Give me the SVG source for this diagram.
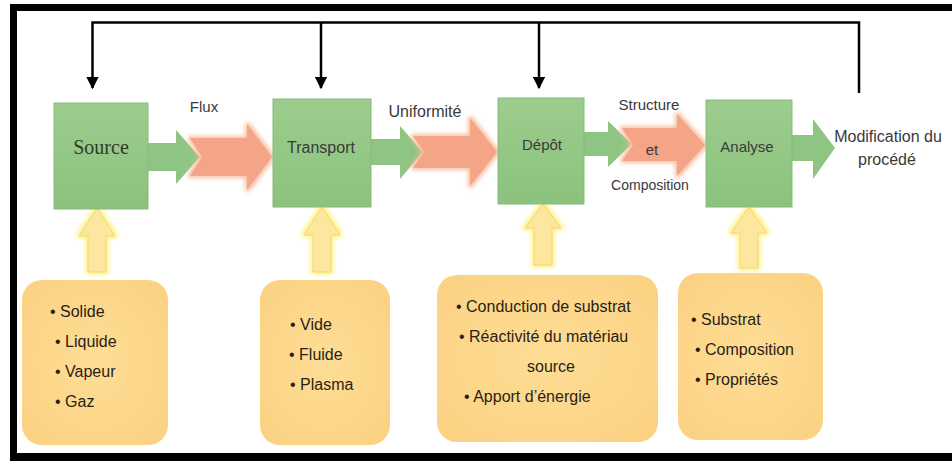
<svg xmlns="http://www.w3.org/2000/svg" width="952" height="461" viewBox="0 0 952 461">
<style>
.lbl{font-family:"Liberation Sans",Arial,sans-serif;fill:#3a3a3a;}
.box{font-family:"Liberation Sans",Arial,sans-serif;font-size:16px;fill:#2a1e16;}
.gbox{fill:url(#gg);stroke:#86bb78;stroke-width:1;}
.garr{fill:#8fc582;}
.oarr{fill:#f4a487;filter:url(#glowO);}
.yarr{fill:#fde7a0;stroke:#f3d76a;stroke-width:1;filter:url(#glowY);}
.ybox{fill:url(#yg);}
.fb{fill:none;stroke:#000;stroke-width:2.5;}
</style>
<defs>
<linearGradient id="gg" x1="0" y1="0" x2="0" y2="1">
<stop offset="0" stop-color="#9ccd8e"/>
<stop offset="1" stop-color="#8cc27d"/>
</linearGradient>
<radialGradient id="yg" cx="0.5" cy="0.5" r="0.7">
<stop offset="0" stop-color="#fedd95"/>
<stop offset="1" stop-color="#fbd182"/>
</radialGradient>
<filter id="glowO" x="-20%" y="-30%" width="140%" height="160%">
<feMorphology in="SourceAlpha" operator="dilate" radius="2" result="d"/>
<feGaussianBlur in="d" stdDeviation="2" result="b"/>
<feFlood flood-color="#f8b996" flood-opacity="0.9"/>
<feComposite in2="b" operator="in" result="g"/>
<feMerge><feMergeNode in="g"/><feMergeNode in="SourceGraphic"/></feMerge>
</filter>
<filter id="glowY" x="-50%" y="-20%" width="200%" height="140%">
<feMorphology in="SourceAlpha" operator="dilate" radius="2" result="d"/>
<feGaussianBlur in="d" stdDeviation="2" result="b"/>
<feFlood flood-color="#fff27a" flood-opacity="0.9"/>
<feComposite in2="b" operator="in" result="g"/>
<feMerge><feMergeNode in="g"/><feMergeNode in="SourceGraphic"/></feMerge>
</filter>
<marker id="ah" viewBox="0 0 10 10" refX="9" refY="5" markerWidth="5" markerHeight="5" markerUnits="strokeWidth" orient="auto">
<path d="M0,0 L10,5 L0,10 Z" fill="#000"/>
</marker>
</defs>
<rect width="952" height="461" fill="#fff"/>
<g id="frame">
<rect x="10" y="4" width="942" height="7" fill="#000"/>
<rect x="10" y="4" width="7" height="457" fill="#000"/>
<rect x="10" y="453" width="942" height="8" fill="#000"/>
</g>
<g id="connectors">
<path class="fb" d="M859,93 V22.5 H92.5 V88" marker-end="url(#ah)"/>
<path class="fb" d="M321,22.5 V88" marker-end="url(#ah)"/>
<path class="fb" d="M539,22.5 V88" marker-end="url(#ah)"/>
<polygon class="garr" points="147,143 176,143 176,130 200,157 176,184 176,171 147,171"/>
<polygon class="garr" points="370,139 400,139 400,126 423,152 400,179 400,165 370,165"/>
<polygon class="garr" points="583,132 608,132 608,121 632,144 608,167 608,156 583,156"/>
<polygon class="garr" points="791,135 813,135 813,119 835,148 813,179 813,161 791,161"/>
<polygon class="oarr" points="190,138 247,138 247,124 272,157 247,190 247,176 190,176 202,157"/>
<polygon class="oarr" points="413,136 470,136 470,118 497,152 470,186 470,168 413,168 424,152"/>
<polygon class="oarr" points="622,128 677,128 677,114 705,145 677,176 677,161 622,161 633,145"/>
<polygon class="yarr" points="97,208 115,236 106,236 106,272 88,272 88,236 79,236"/>
<polygon class="yarr" points="322,207 340,235 331,235 331,272 313,272 313,235 304,235"/>
<polygon class="yarr" points="543,204 561,228 552,228 552,265 534,265 534,228 525,228"/>
<polygon class="yarr" points="749,207 767,233 758,233 758,268 740,268 740,233 731,233"/>
<text class="lbl" x="204" y="112" font-size="15" text-anchor="middle">Flux</text>
<text class="lbl" x="425" y="117" font-size="16" text-anchor="middle">Uniformité</text>
<text class="lbl" x="649" y="110" font-size="15" text-anchor="middle">Structure</text>
<text class="lbl" x="652" y="155" font-size="15" text-anchor="middle">et</text>
<text class="lbl" x="650" y="190" font-size="14" text-anchor="middle">Composition</text>
<text class="lbl" x="888" y="142" font-size="16" text-anchor="middle">Modification du</text>
<text class="lbl" x="887" y="165" font-size="16" text-anchor="middle">procédé</text>
</g>
<g id="source">
<rect class="gbox" x="54" y="103" width="94" height="106"/>
<text x="101" y="154" font-family="'Liberation Serif',serif" font-size="20" fill="#2f3a2a" text-anchor="middle">Source</text>
</g>
<g id="transport">
<rect class="gbox" x="273" y="99" width="98" height="108"/>
<text class="lbl" x="321" y="153" font-size="16" text-anchor="middle">Transport</text>
</g>
<g id="depot">
<rect class="gbox" x="498" y="98" width="86" height="106"/>
<text class="lbl" x="542" y="150" font-size="15" text-anchor="middle">Dépôt</text>
</g>
<g id="analyse">
<rect class="gbox" x="706" y="100" width="86" height="107"/>
<text class="lbl" x="747" y="152" font-size="15" text-anchor="middle">Analyse</text>
</g>
<g id="etats">
<rect class="ybox" x="22" y="280" width="146" height="165" rx="20"/>
<text class="box" x="50" y="317">• Solide</text>
<text class="box" x="55" y="347">• Liquide</text>
<text class="box" x="55" y="377">• Vapeur</text>
<text class="box" x="55" y="407">• Gaz</text>
</g>
<g id="milieux">
<rect class="ybox" x="260" y="280" width="130" height="165" rx="20"/>
<text class="box" x="290" y="330">• Vide</text>
<text class="box" x="289" y="360">• Fluide</text>
<text class="box" x="290" y="390">• Plasma</text>
</g>
<g id="conditions">
<rect class="ybox" x="437" y="275" width="221" height="167" rx="20"/>
<text class="box" x="456" y="312">• Conduction de substrat</text>
<text class="box" x="459" y="342">• Réactivité du matériau</text>
<text class="box" x="551" y="372" text-anchor="middle">source</text>
<text class="box" x="464" y="402">• Apport d’énergie</text>
</g>
<g id="proprietes">
<rect class="ybox" x="678" y="273" width="145" height="167" rx="20"/>
<text class="box" x="691" y="325">• Substrat</text>
<text class="box" x="695" y="355">• Composition</text>
<text class="box" x="695" y="385">• Propriétés</text>
</g>
</svg>
